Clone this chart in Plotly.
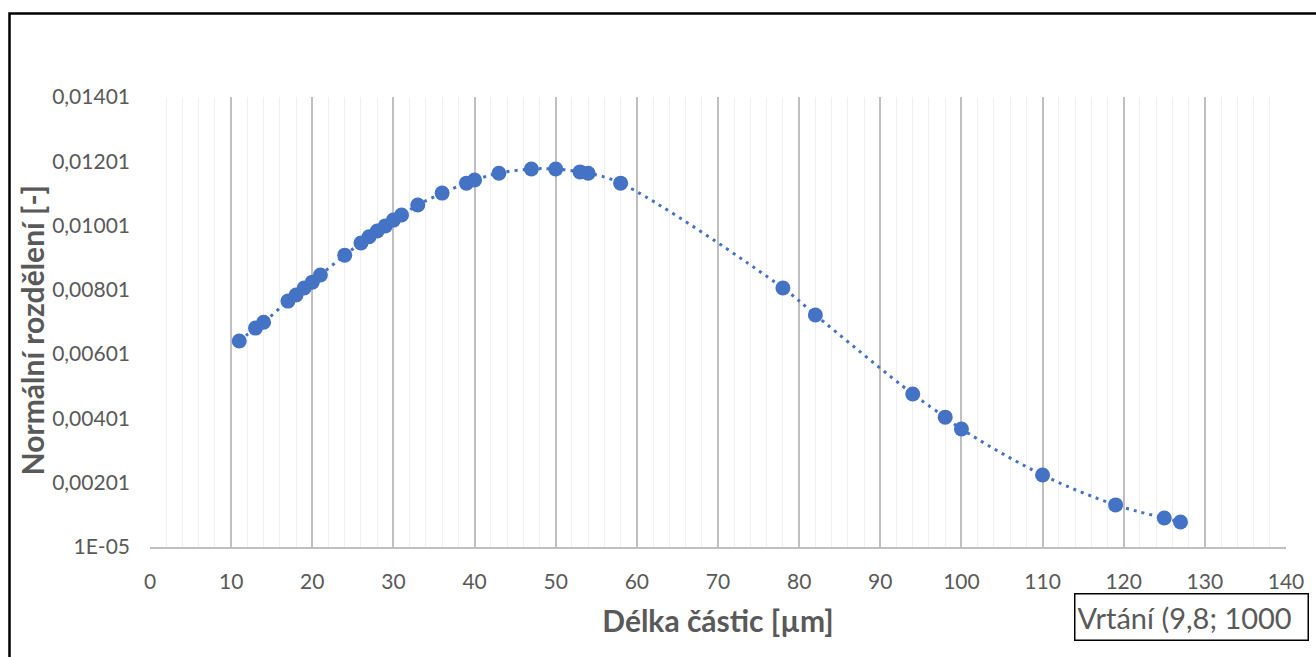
import plotly.graph_objects as go

# Particle length [µm] and normal distribution density [-]
delka = [11, 13, 14, 17, 18, 19, 20, 21, 24, 26, 27, 28, 29, 30, 31, 33, 36, 39, 40,
         43, 47, 50, 53, 54, 58, 78, 82, 94, 98, 100, 110, 119, 125, 127]
hustota = [0.00642, 0.00682, 0.00700, 0.00766, 0.00785, 0.00807, 0.00825, 0.00847,
           0.00909, 0.00947, 0.00966, 0.00984, 0.01000, 0.01018, 0.01034, 0.01065,
           0.01102, 0.01133, 0.01143, 0.01164, 0.01177, 0.01177, 0.01168, 0.01164,
           0.01133, 0.00807, 0.00723, 0.00477, 0.00405, 0.00368, 0.00225, 0.00132,
           0.00091, 0.00079]

y_ticks = [0.00001, 0.00201, 0.00401, 0.00601, 0.00801, 0.01001, 0.01201, 0.01401]
y_labels = ["1E-05", "0,00201", "0,00401", "0,00601", "0,00801", "0,01001", "0,01201", "0,01401"]
x_ticks = list(range(0, 141, 10))

series_name = "Vrtání (9,8; 1000"
y_title = "Normální rozdělení [-]"
x_title = "Délka částic [µm]"

BLUE = "#4472C4"
GREY_TXT = "#595959"
FONT = "Lato, 'Open Sans', sans-serif"

fig = go.Figure()
fig.add_trace(go.Scatter(
    x=delka, y=hustota, mode="lines+markers", name=series_name,
    line=dict(color=BLUE, width=3, dash="3px,5px", shape="spline", smoothing=1.0),
    marker=dict(color=BLUE, size=15, line=dict(width=0)),
    showlegend=False,
))

fig.update_layout(
    width=1316, height=657,
    margin=dict(l=150, r=26, t=97, b=110),
    paper_bgcolor="white", plot_bgcolor="white",
    font=dict(family=FONT, color=GREY_TXT, size=21),
    xaxis=dict(
        range=[0, 140], tickvals=x_ticks, ticktext=[str(v) for v in x_ticks],
        showgrid=True, gridcolor="#BFBFBF", gridwidth=1.5,
        minor=dict(dtick=2, showgrid=True, gridcolor="#EFEFEF", gridwidth=1),
        showline=True, linecolor="#BFBFBF", linewidth=1.5,
        zeroline=False, ticks="", ticklabelstandoff=15,
        tickfont=dict(size=21, color=GREY_TXT),
        title=dict(text="<b>" + x_title + "</b>", font=dict(size=30, color=GREY_TXT), standoff=19),
    ),
    yaxis=dict(
        range=[0.00001, 0.01401], tickvals=y_ticks, ticktext=y_labels,
        showgrid=False, zeroline=False, showline=False, ticks="",
        ticklabelstandoff=19,
        tickfont=dict(size=21, color=GREY_TXT),
    ),
    annotations=[
        # vertical axis title, placed in the left margin
        dict(
            xref="paper", yref="paper", x=(32 - 150) / 1140, y=(547 - 330) / 450,
            xanchor="center", yanchor="middle", text="<b>" + y_title + "</b>",
            textangle=-90, showarrow=False, font=dict(size=30, color=GREY_TXT, family=FONT),
        ),
        # series label box
        dict(
            xref="paper", yref="paper", x=(1077 - 150) / 1140, y=(547 - 593) / 450,
            xanchor="left", yanchor="top", text=series_name, showarrow=False,
            font=dict(size=29, color=GREY_TXT, family=FONT),
            bordercolor="black", borderwidth=1.5, borderpad=2,
            width=228, height=41, align="left", bgcolor="white",
        ),
    ],
    shapes=[dict(
        type="rect", xref="paper", yref="paper",
        x0=(9 - 150) / 1140, x1=1.5, y0=-1.0, y1=(547 - 13.5) / 450,
        line=dict(color="black", width=2.5), fillcolor="rgba(0,0,0,0)", layer="above",
    )],
)

fig.write_html("out.html")
